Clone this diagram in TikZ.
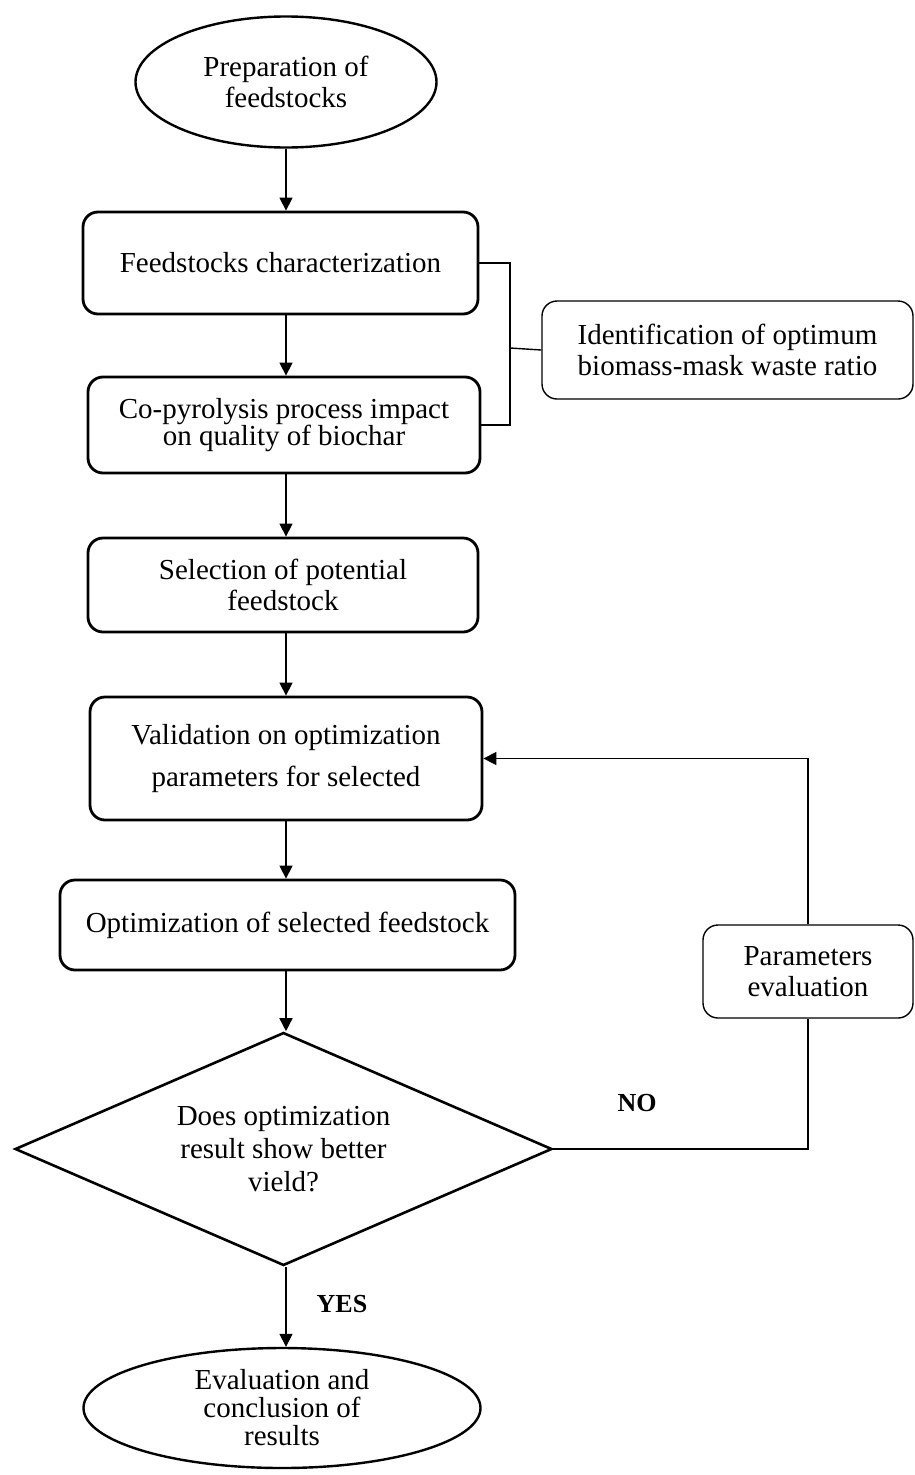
\documentclass[tikz,border=0pt]{standalone}
\usepackage{fontspec}
\setmainfont{Liberation Serif}
\usetikzlibrary{shapes.geometric,arrows.meta}
\begin{document}
\begin{tikzpicture}[x=1pt,y=-1pt,
  txt/.style={align=center,font=\fontsize{29}{31}\selectfont},
  mainbox/.style={txt,draw,line width=2.8pt,rounded corners=15pt,inner sep=0pt},
  sidebox/.style={txt,draw,line width=1.4pt,rounded corners=15pt,inner sep=0pt},
  term/.style={txt,draw,ellipse,line width=2.4pt,inner sep=0pt},
  decision/.style={txt,draw,diamond,line width=2.6pt,inner sep=0pt,aspect=2.3},
  conn/.style={line width=1.4pt},
  arr/.style={conn,-{Triangle[length=13pt,width=13pt]}},
  lbl/.style={font=\fontsize{26}{28}\selectfont\bfseries}]
\useasboundingbox (0,0) rectangle (914,1475);
\coordinate (axis) at (286,0);
\node[term,minimum width=301pt,minimum height=131pt] (e1) at (286,82) {Preparation of\\feedstocks};
\node[mainbox,minimum width=395pt,minimum height=102pt] (b1) at (280.5,263) {Feedstocks characterization};
\node[mainbox,minimum width=392pt,minimum height=96pt,font=\fontsize{29}{26}\selectfont] (b2) at (284,425) {Co-pyrolysis process impact\\on quality of biochar};
\node[mainbox,minimum width=390pt,minimum height=94pt] (b3) at (283,585) {Selection of potential\\feedstock};
\node[mainbox,minimum width=392pt,minimum height=123pt,font=\fontsize{29}{42}\selectfont] (b4) at (286,758.5) {Validation on optimization\\parameters for selected};
\node[mainbox,minimum width=455pt,minimum height=90pt] (b5) at (287.5,925) {Optimization of selected feedstock};
\node[decision,minimum width=537pt,minimum height=233pt,font=\fontsize{29}{33}\selectfont] (d) at (283.5,1149) {Does optimization\\result show better\\vield?};
\node[term,minimum width=397pt,minimum height=120pt,font=\fontsize{29}{28}\selectfont] (e2) at (282,1408) {Evaluation and\\conclusion of\\results};
\node[sidebox,minimum width=371pt,minimum height=98pt] (id) at (727.5,350) {Identification of optimum\\biomass-mask waste ratio};
\node[sidebox,minimum width=210pt,minimum height=93pt] (pe) at (808,971.5) {Parameters\\evaluation};
\node[lbl] (no) at (637,1103) {NO};
\node[lbl] (yes) at (342,1304) {YES};
\coordinate (jx) at (510,348);
% main flow
\draw[arr] (e1.south -| axis) -- (b1.north -| axis);
\draw[arr] (b1.south -| axis) -- (b2.north -| axis);
\draw[arr] (b2.south -| axis) -- (b3.north -| axis);
\draw[arr] (b3.south -| axis) -- (b4.north -| axis);
\draw[arr] (b4.south -| axis) -- (b5.north -| axis);
\draw[arr] (b5.south -| axis) -- (d.north -| axis);
\draw[arr] (d.south -| axis) -- (e2.north -| axis);
% bracket
\draw[conn] (b1.east) -| (jx) |- (b2.east);
\draw[conn] (jx) -- (id.west);
% loop
\draw[conn] (d.east) -| (pe.south);
\draw[arr] (pe.north) |- (b4.east);
\end{tikzpicture}
\end{document}
